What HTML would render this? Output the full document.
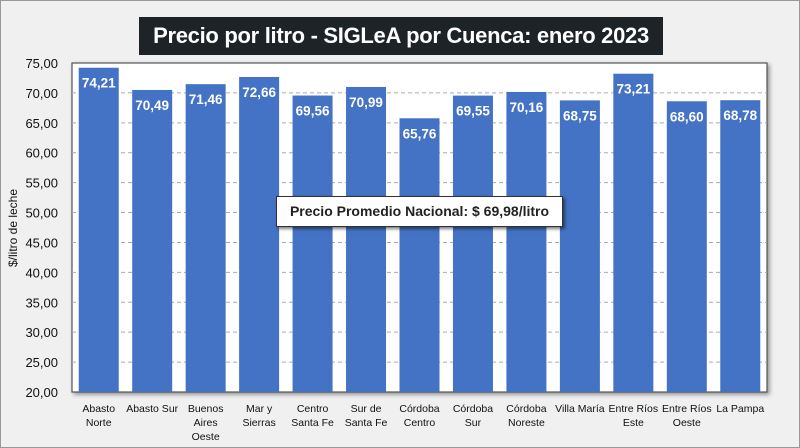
<!DOCTYPE html>
<html><head><meta charset="utf-8"><style>
body{margin:0;width:800px;height:448px;overflow:hidden;background:#fff;font-family:"Liberation Sans",sans-serif}
#frame{position:absolute;left:0;top:0;width:798px;height:446px;border:1px solid #999;background:#f0f0f0}
#title{position:absolute;left:139px;top:17px;width:524px;height:38px;background:#1e2328;color:#fff;font-weight:bold;font-size:22px;line-height:38px;text-align:center;letter-spacing:-0.3px}
#note{position:absolute;left:276px;top:196px;width:285px;height:29px;background:#fff;border:1px solid #333;box-shadow:2px 2px 3px rgba(0,0,0,.5);font-weight:bold;font-size:14px;line-height:29px;text-align:center;color:#222}
</style></head><body>
<div id="frame"></div>
<div id="title">Precio por litro - SIGLeA por Cuenca: enero 2023</div>
<svg id="chart" width="800" height="448" style="position:absolute;left:0;top:0"></svg>
<div id="note">Precio Promedio Nacional: $ 69,98/litro</div>
<script>
const categories=[["Abasto","Norte"],["Abasto Sur"],["Buenos","Aires","Oeste"],["Mar y","Sierras"],["Centro","Santa Fe"],["Sur de","Santa Fe"],["Córdoba","Centro"],["Córdoba","Sur"],["Córdoba","Noreste"],["Villa María"],["Entre Ríos","Este"],["Entre Ríos","Oeste"],["La Pampa"]];
const values=[74.21,70.49,71.46,72.66,69.56,70.99,65.76,69.55,70.16,68.75,73.21,68.60,68.78];
const ticks=[20,25,30,35,40,45,50,55,60,65,70,75];
const svg=document.getElementById('chart');const NS='http://www.w3.org/2000/svg';
const X0=72,X1=767,Y0=392,Y1=63,ymin=20,ymax=75;
const y=v=>Y0-(v-ymin)/(ymax-ymin)*(Y0-Y1);
const step=(X1-X0)/categories.length;
const xc=i=>X0+step*(i+0.5);
function mk(t,a){const e=document.createElementNS(NS,t);for(const k in a)e.setAttribute(k,a[k]);svg.appendChild(e);return e;}
const pa=mk('rect',{x:X0,y:Y1,width:X1-X0,height:Y0-Y1,fill:'#fff',stroke:'#555','stroke-width':1.2,style:'filter:drop-shadow(2px 2px 2px rgba(0,0,0,.4))'});


ticks.forEach(t=>{
 if(t>ymin&&t<ymax){const g=mk('line',{x1:X0,x2:X1,y1:y(t),y2:y(t),stroke:'#aaa','stroke-dasharray':'4,3'});
 
 }
 const l=mk('text',{x:58,y:y(t)+5,'text-anchor':'end','font-size':13,fill:'#111'});l.textContent=t.toFixed(2).replace('.',',');
 
 
});
values.forEach((v,i)=>{
 const b=mk('rect',{x:xc(i)-20,y:y(v),width:40,height:Y0-y(v),fill:'#4472c4'});
 
 
 const t=mk('text',{x:xc(i),y:y(v)+20,'text-anchor':'middle','font-size':13.5,'font-weight':'bold',fill:'#fff'});t.textContent=v.toFixed(2).replace('.',',');
 
 
 categories[i].forEach((ln,j)=>{const c=mk('text',{x:xc(i),y:412+j*14,'text-anchor':'middle','font-size':10.5,fill:'#111'});c.textContent=ln;
 
 });
});
const at=mk('text',{x:0,y:0,transform:'translate(17,228) rotate(-90)','text-anchor':'middle','font-size':12,fill:'#111'});at.textContent='$/litro de leche';


</script>
</body></html>
